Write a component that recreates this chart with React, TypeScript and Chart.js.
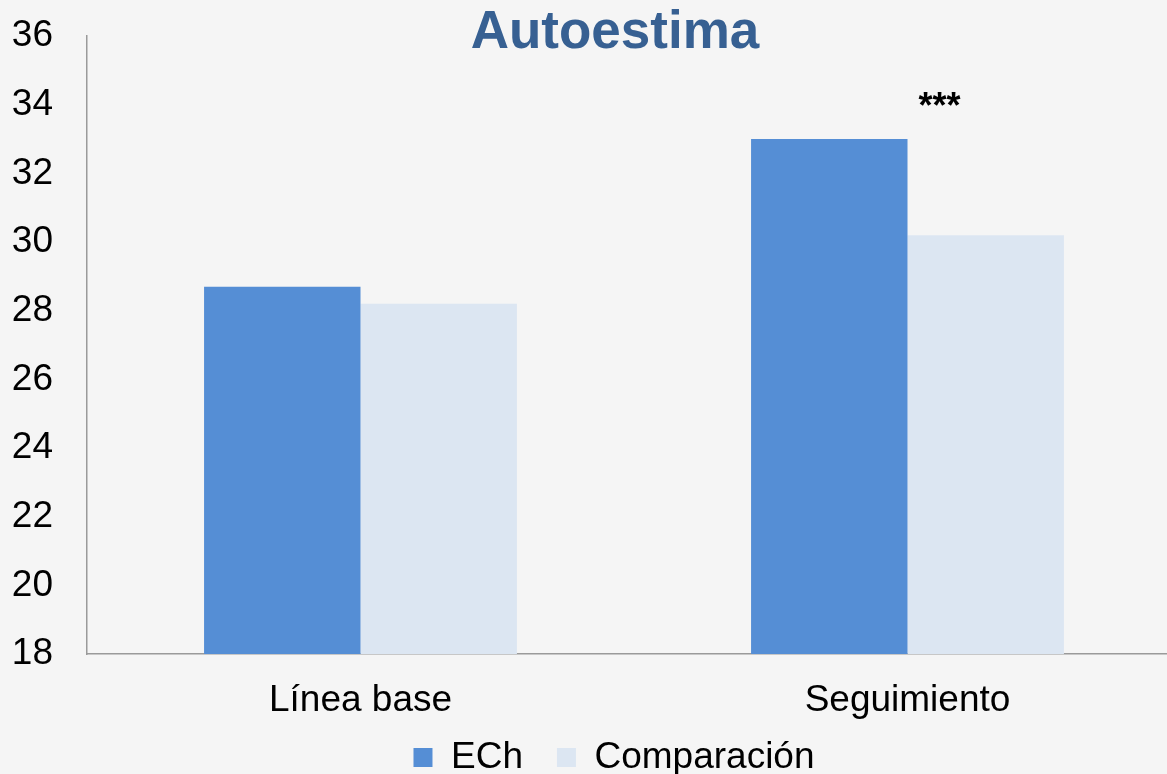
import React, { useEffect, useRef } from "react";
import { Chart, registerables } from "chart.js";

Chart.register(...registerables);

const categories = ["Línea base", "Seguimiento"];
const seriesNames = ["ECh", "Comparación"];
const echValues = [28.7, 33.0];
const comparacionValues = [28.2, 30.2];
const yTicks = [18, 20, 22, 24, 26, 28, 30, 32, 34, 36];
const titleText = "Autoestima";
const significance = ["", "***"];

const FONT = "'Liberation Sans', Arial, sans-serif";

const overlayPlugin = {
  id: "overlay",
  afterLayout(chart: any) {
    const lg = chart.legend;
    if (lg) {
      const dx = -20;
      const dy = -19;
      lg.left += dx;
      lg.right += dx;
      lg.top += dy;
      lg.bottom += dy;
    }
  },
  beforeDraw(chart: any) {
    const ctx = chart.ctx;
    ctx.save();
    ctx.fillStyle = "#f5f5f5";
    ctx.fillRect(0, 0, chart.width, chart.height);
    ctx.restore();
  },
  afterDraw(chart: any) {
    const ctx = chart.ctx;
    const x = chart.scales.x;
    const y = chart.scales.y;
    ctx.save();
    ctx.fillStyle = "#376092";
    ctx.font = `bold 53px ${FONT}`;
    ctx.textAlign = "center";
    ctx.textBaseline = "alphabetic";
    ctx.fillText(titleText, 615, 48);
    ctx.fillStyle = "#000";
    ctx.font = `bold 36px ${FONT}`;
    significance.forEach((s, i) => {
      if (!s) return;
      ctx.fillText(s, x.getPixelForValue(i) + 32, y.getPixelForValue(33.6));
    });
    ctx.restore();
  },
};

export default function App() {
  const ref = useRef<HTMLCanvasElement>(null);
  useEffect(() => {
    document.body.style.margin = "0";
    const chart = new Chart(ref.current!, {
      type: "bar",
      data: {
        labels: categories,
        datasets: [
          {
            label: seriesNames[0],
            data: echValues,
            backgroundColor: "#558ed5",
            borderWidth: 0,
          },
          {
            label: seriesNames[1],
            data: comparacionValues,
            backgroundColor: "#dce6f2",
            borderWidth: 0,
          },
        ],
      },
      options: {
        animation: false,
        responsive: false,
        devicePixelRatio: 1,
        categoryPercentage: 0.572,
        barPercentage: 1.0,
        layout: { padding: { top: 36, left: 13, right: 0, bottom: 0 } },
        plugins: {
          title: { display: false },
          tooltip: { enabled: false },
          legend: {
            position: "bottom",
            fullSize: false,
            labels: {
              boxWidth: 19,
              boxHeight: 19,
              padding: 34,
              color: "#000",
              font: { family: FONT, size: 37 },
            },
          },
        },
        scales: {
          x: {
            grid: { display: false, drawTicks: false },
            border: { display: true, color: "#9a9a9a", width: 1.5 },
            ticks: {
              color: "#000",
              padding: 25,
              font: { family: FONT, size: 37 },
            },
            afterFit: (axis: any) => {
              axis.height = 70;
            },
          },
          y: {
            min: 18,
            max: 36,
            afterBuildTicks: (axis: any) => {
              axis.ticks = yTicks.map((v) => ({ value: v }));
            },
            grid: { display: false, drawTicks: true, tickLength: 34 },
            border: { display: true, color: "#9a9a9a", width: 1.5 },
            ticks: {
              color: "#000",
              padding: 0,
              font: { family: FONT, size: 37 },
            },
            afterFit: (axis: any) => {
              axis.width = 74;
            },
          },
        },
      },
      plugins: [overlayPlugin],
    });
    return () => chart.destroy();
  }, []);
  return (
    <div style={{ width: 1167, height: 774, overflow: "hidden", background: "#f5f5f5" }}>
      <canvas ref={ref} width={1181} height={805} style={{ display: "block" }} />
    </div>
  );
}
